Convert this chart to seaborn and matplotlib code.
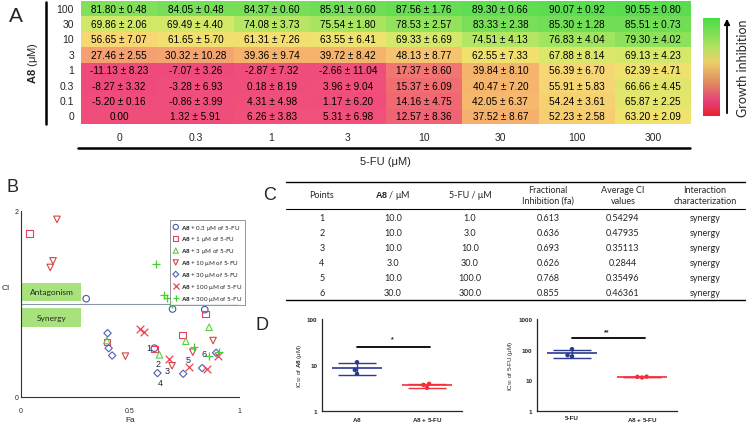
import numpy as np
import pandas as pd
import seaborn as sns
import matplotlib.pyplot as plt
from matplotlib.colors import LinearSegmentedColormap
from matplotlib.patches import Rectangle, FancyArrowPatch
from matplotlib.lines import Line2D

# ---- panel A: growth inhibition (%) for A8 x 5-FU
a8_conc = ['100', '30', '10', '3', '1', '0.3', '0.1', '0']
fu_conc = ['0', '0.3', '1', '3', '10', '30', '100', '300']
inhib_mean = [
    [81.80, 84.05, 84.37, 85.91, 87.56, 89.30, 90.07, 90.55],
    [69.86, 69.49, 74.08, 75.54, 78.53, 83.33, 85.30, 85.51],
    [56.65, 61.65, 61.31, 63.55, 69.33, 74.51, 76.83, 79.30],
    [27.46, 30.32, 39.36, 39.72, 48.13, 62.55, 67.88, 69.13],
    [-11.13, -7.07, -2.87, -2.66, 17.37, 39.84, 56.39, 62.39],
    [-8.27, -3.28, 0.18, 3.96, 15.37, 40.47, 55.91, 66.66],
    [-5.20, -0.86, 4.31, 1.17, 14.16, 42.05, 54.24, 65.87],
    [0.00, 1.32, 6.26, 5.31, 12.57, 37.52, 52.23, 63.20],
]
inhib_sd = [
    [0.48, 0.48, 0.60, 0.60, 1.76, 0.66, 0.92, 0.80],
    [2.06, 4.40, 3.73, 1.80, 2.57, 2.38, 1.28, 0.73],
    [7.07, 5.70, 7.26, 6.41, 6.69, 4.13, 4.04, 4.02],
    [2.55, 10.28, 9.74, 8.42, 8.77, 7.33, 8.14, 4.23],
    [8.23, 3.26, 7.32, 11.04, 8.60, 8.10, 6.70, 4.71],
    [3.32, 6.93, 8.19, 9.04, 6.09, 7.20, 5.83, 4.45],
    [0.16, 3.99, 4.98, 6.20, 4.75, 6.37, 3.61, 2.25],
    [None, 5.91, 3.83, 6.98, 8.36, 8.67, 2.58, 2.09],
]

# ---- panel B: Fa / CI per 5-FU dose
fa_03 = [0.299, 0.695, 0.843, 0.612]
ci_03 = [1.057, 0.946, 0.939, 0.525]
fa_1 = [0.038, 0.394, 0.612, 0.742, 0.847]
ci_1 = [1.76, 0.589, 0.514, 0.668, 0.893]
fa_3 = [0.394, 0.635, 0.756, 0.863]
ci_3 = [0.607, 0.454, 0.600, 0.750]
fa_10 = [0.165, 0.147, 0.134, 0.479, 0.693, 0.788, 0.881]
ci_10 = [1.91, 1.464, 1.393, 0.439, 0.336, 0.482, 0.607]
fa_30 = [0.397, 0.402, 0.418, 0.626, 0.744, 0.831, 0.895]
ci_30 = [0.686, 0.525, 0.446, 0.257, 0.250, 0.311, 0.475]
fa_100 = [0.545, 0.565, 0.679, 0.771, 0.855, 0.905]
ci_100 = [0.732, 0.696, 0.404, 0.321, 0.296, 0.446]
fa_300 = [0.621, 0.656, 0.669, 0.692, 0.795, 0.861, 0.908]
ci_300 = [1.429, 1.100, 1.064, 1.000, 0.543, 0.436, 0.482]

# ---- panel C: table
tab_points = [1, 2, 3, 4, 5, 6]
tab_a8 = [10.0, 10.0, 10.0, 3.0, 10.0, 30.0]
tab_fu = [1.0, 3.0, 10.0, 30.0, 100.0, 300.0]
tab_fa = [0.613, 0.636, 0.693, 0.626, 0.768, 0.855]
tab_ci = [0.54294, 0.47935, 0.35113, 0.2844, 0.35496, 0.46361]
tab_type = ['synergy'] * 6

# ---- panel D: IC50 replicates
ic50_a8 = [11.5, 7.8, 6.4]
ic50_a8_combo = [3.9, 3.2, 3.7]
ic50_fu = [104, 66, 60]
ic50_fu_combo = [13.2, 12.4, 13.0]
sig_a8, sig_fu = 25, 240

sns.set_style('white')
plt.rcParams['font.family'] = ['Liberation Sans', 'DejaVu Sans']
plt.rcParams['mathtext.fontset'] = 'custom'
plt.rcParams['mathtext.rm'] = 'Liberation Sans'
plt.rcParams['mathtext.bf'] = 'Liberation Sans:bold'
plt.rcParams['mathtext.it'] = 'Liberation Sans:italic'

W, H = 750, 427
fig = plt.figure(figsize=(7.5, 4.27), dpi=100)


def fx(px):
    return px / W


def fy(py):
    return 1 - py / H


def box(x0, y0, x1, y1):
    return [fx(x0), fy(y1), fx(x1) - fx(x0), fy(y0) - fy(y1)]


# ================= A
vmin, vmax = -11.2, 91
anchors = [(-11.2, '#ee4a7c'), (6, '#f0507a'), (14, '#f06872'), (27, '#f4a070'),
           (40, '#f5b46c'), (50, '#f6c870'), (57, '#f6d874'), (63, '#f0e26e'),
           (69, '#d8e86a'), (75, '#b0e662'), (80, '#88e05a'), (86, '#70de56'), (91, '#58dc50')]
hm_cmap = LinearSegmentedColormap.from_list(
    'gi', [((v - vmin) / (vmax - vmin), c) for v, c in anchors])
ax_a = fig.add_axes(box(81, 2, 691, 125))
df_a = pd.DataFrame(inhib_mean, index=a8_conc, columns=fu_conc)
annot = [[f'{m:.2f}' if s is None else f'{m:.2f} ± {s:.2f}' for m, s in zip(rm, rs)]
         for rm, rs in zip(inhib_mean, inhib_sd)]
sns.heatmap(df_a, ax=ax_a, cmap=hm_cmap, vmin=vmin, vmax=vmax, cbar=False,
            xticklabels=True, yticklabels=True,
            annot=np.array(annot), fmt='', annot_kws={'fontsize': 7.2, 'color': 'black'})
ax_a.set_xlabel('')
ax_a.set_ylabel('')
ax_a.set_yticklabels(a8_conc, rotation=0, fontsize=7.5)
ax_a.set_xticklabels(fu_conc, rotation=0, fontsize=7.5)
ax_a.tick_params(length=0, pad=5)
ax_a.tick_params(axis='x', pad=6)

fig.add_artist(Line2D([fx(46), fx(46)], [fy(3), fy(125)], color='black', lw=1.8))
fig.add_artist(Line2D([fx(78), fx(690)], [fy(149), fy(149)], color='black', lw=1.8))
fig.text(fx(385), fy(162), '5-FU (μM)', fontsize=8, ha='center', va='center')
fig.text(fx(33), fy(63), r'$\mathbf{A8}$ (μM)', fontsize=8, rotation=90, ha='center', va='center')
fig.text(fx(16), fy(17), 'A', fontsize=15, ha='center', va='center')

cb_cmap = LinearSegmentedColormap.from_list('cb', [
    (0.0, '#e8242e'), (0.15, '#e8407a'), (0.35, '#e0905e'), (0.55, '#ecd06a'),
    (0.7, '#b4e260'), (1.0, '#48de48')])
ax_cb = fig.add_axes(box(703, 19, 720, 117))
ax_cb.imshow(np.linspace(1, 0, 200)[:, None], aspect='auto', cmap=cb_cmap)
ax_cb.axis('off')
fig.add_artist(FancyArrowPatch((fx(727), fy(117)), (fx(727), fy(17)), transform=fig.transFigure,
                               arrowstyle='-|>', mutation_scale=8, lw=1.3, color='black'))
fig.text(fx(743), fy(68), 'Growth inhibition', fontsize=9, family=['Lato', 'DejaVu Sans'],
         rotation=90, ha='center', va='center')

# ================= B
ax_b = fig.add_axes(box(21, 212, 239, 398))
groups = [
    (fa_03, ci_03, 'o', '#4a58a8', '0.3'),
    (fa_1, ci_1, 's', '#e8405e', '1'),
    (fa_3, ci_3, '^', '#5ad040', '3'),
    (fa_10, ci_10, 'v', '#d84444', '10'),
    (fa_30, ci_30, 'D', '#5060b0', '30'),
    (fa_100, ci_100, 'x', '#e84452', '100'),
    (fa_300, ci_300, '+', '#40d030', '300'),
]
handles = []
for fa, ci, mk, col, dose in groups:
    if mk in ('x', '+'):
        h = ax_b.scatter(fa, ci, marker=mk, color=col, s=30, lw=0.9, zorder=3)
    else:
        h = ax_b.scatter(fa, ci, marker=mk, facecolors='none', edgecolors=col,
                         s=22 if mk != 'D' else 14, lw=0.8, zorder=3)
    h.set_label(r'$\mathbf{A8}$ + ' + dose + ' μM of 5-FU')
    handles.append(h)

ax_b.axhline(1, color='#8898a8', lw=0.8, zorder=1)
ax_b.add_patch(Rectangle((0.005, 1.03), 0.27, 0.2, color='#a8e27c', lw=0, zorder=1))
ax_b.add_patch(Rectangle((0.005, 0.75), 0.27, 0.21, color='#a8e27c', lw=0, zorder=1))
ax_b.text(0.14, 1.13, 'Antagonism', fontsize=6, ha='center', va='center', family=['Lato', 'DejaVu Sans'])
ax_b.text(0.14, 0.855, 'Synergy', fontsize=6, ha='center', va='center', family=['Lato', 'DejaVu Sans'])

lab_off = [(-6, -1), (-1.5, -11), (-5, -6), (2.5, -12), (0, 4), (-3, 0.5)]
for p, fa, ci, (dx, dy) in zip(tab_points, tab_fa, tab_ci, lab_off):
    ax_b.annotate(str(p), (fa, ci), xytext=(dx * 0.72, dy * 0.72), textcoords='offset points',
                  fontsize=6.5, ha='center', va='center', color='#222244')

ax_b.set_xlim(0, 1)
ax_b.set_ylim(0, 2)
ax_b.set_xticks([0, 0.5, 1])
ax_b.set_xticklabels(['0', '0.5', '1'])
ax_b.set_xticks(np.arange(0, 1.01, 0.1), minor=True)
ax_b.set_yticks([0, 2])
ax_b.set_yticks([0.5, 1, 1.5], minor=True)
ax_b.tick_params(which='both', direction='in', length=2, width=0.6, labelsize=5, pad=2)
ax_b.tick_params(axis='x', pad=7)
for s in ['top', 'right']:
    ax_b.spines[s].set_visible(False)
for s in ['left', 'bottom']:
    ax_b.spines[s].set_linewidth(0.8)
    ax_b.spines[s].set_color('#333333')
ax_b.set_xlabel('Fa', fontsize=6, labelpad=2)
ax_b.set_ylabel('CI', fontsize=6, rotation=0)
ax_b.yaxis.set_label_coords(-0.07, 0.57)
leg = ax_b.legend(handles=handles, loc='upper left', bbox_to_anchor=(fx(167), fy(218)),
                  bbox_transform=fig.transFigure, frameon=True, fancybox=False,
                  edgecolor='#666666', labelspacing=0.45, handletextpad=0.4, borderpad=0.4,
                  handlelength=1.0, markerscale=0.8, prop={'family': ['Lato', 'DejaVu Sans'], 'size': 4.5})
leg.get_frame().set_linewidth(0.6)
fig.text(fx(13), fy(187), 'B', fontsize=13, ha='center', va='center')

# ================= C
ax_c = fig.add_axes(box(285, 182, 745, 301))
ax_c.set_xlim(285, 745)
ax_c.set_ylim(301, 182)
ax_c.axis('off')
tfont = ['Lato', 'DejaVu Sans']
col_x = [322, 393, 470, 548, 623, 705]
headers = ['Points', r'$\mathbf{A8}$ / μM', '5-FU / μM', 'Fractional\nInhibition (fa)',
           'Average CI\nvalues', 'Interaction\ncharacterization']
for x, h in zip(col_x, headers):
    ax_c.text(x, 196, h, fontsize=6.5, ha='center', va='center', family=tfont, linespacing=1.15)
for i in range(len(tab_points)):
    y = 219 + 15 * i
    row = [str(tab_points[i]), f'{tab_a8[i]:.1f}', f'{tab_fu[i]:.1f}', f'{tab_fa[i]:.3f}',
           str(tab_ci[i]), tab_type[i]]
    for x, t in zip(col_x, row):
        ax_c.text(x, y, t, fontsize=6.5, ha='center', va='center', family=tfont)
ax_c.plot([286, 745], [182.5, 182.5], color='black', lw=1.0, clip_on=False)
ax_c.plot([286, 745], [210, 210], color='black', lw=0.8, clip_on=False)
ax_c.plot([286, 745], [301, 301], color='black', lw=1.0, clip_on=False)
fig.text(fx(270), fy(195), 'C', fontsize=13, ha='center', va='center')

# ================= D
navy, red = '#2b3a8c', '#f0303c'


def ic50_panel(ax, names, vals1, vals2, ylab, top, sig, star):
    df = pd.DataFrame({'group': [names[0]] * len(vals1) + [names[1]] * len(vals2),
                       'ic50': vals1 + vals2})
    sns.swarmplot(data=df, x='group', y='ic50', hue='group', palette=[navy, red], size=3.2,
                  ax=ax, legend=False, log_scale=True, zorder=3)
    stats = df.groupby('group', sort=False)['ic50'].agg(['mean', 'std'])
    for i, (m, s) in enumerate(stats.values):
        col = [navy, red][i]
        ax.hlines(m, i - 0.36, i + 0.36, color=col, lw=1.2)
        ax.errorbar(i, m, yerr=s, color=col, lw=1.0, capsize=14, capthick=1.0)
    ax.plot([0, 1.04], [sig, sig], color='black', lw=1.3)
    ax.text(0.5, sig * 1.25, star, fontsize=5, ha='center', va='bottom', fontweight='bold')
    ax.set_xlim(-0.5, 1.5)
    ax.set_ylim(1, top)
    ax.set_xlabel('')
    ax.set_ylabel(ylab, fontsize=4.5, labelpad=2)
    ax.set_xticks([0, 1])
    ax.set_xticklabels([r'$\mathbf{A8}$' if n == 'A8' else n for n in names])
    for lab in ax.get_xticklabels():
        lab.set_fontweight('bold')
    ax.yaxis.set_major_formatter(plt.FuncFormatter(lambda v, p: f'{v:g}'))
    for lab in ax.get_yticklabels():
        lab.set_fontweight('bold')
    ax.tick_params(labelsize=4.5, length=2, width=0.6, pad=1.5)
    ax.tick_params(which='minor', length=1.2, width=0.4)
    ax.tick_params(axis='x', length=0, pad=3)
    for s in ['top', 'right']:
        ax.spines[s].set_visible(False)
    for s in ['left', 'bottom']:
        ax.spines[s].set_linewidth(0.9)


ax_d1 = fig.add_axes(box(322, 320, 462, 412))
ic50_panel(ax_d1, ['A8', r'$\mathbf{A8}$ + 5-FU'], ic50_a8, ic50_a8_combo,
           r'IC$_{50}$ of $\mathbf{A8}$ (μM)', 100, sig_a8, '*')
ax_d2 = fig.add_axes(box(537, 320, 677, 412))
ic50_panel(ax_d2, ['5-FU', r'$\mathbf{A8}$ + 5-FU'], ic50_fu, ic50_fu_combo,
           r'IC$_{50}$ of 5-FU (μM)', 1000, sig_fu, '**')
fig.text(fx(262), fy(326), 'D', fontsize=13, ha='center', va='center')

fig.savefig('out.png', dpi=100)
